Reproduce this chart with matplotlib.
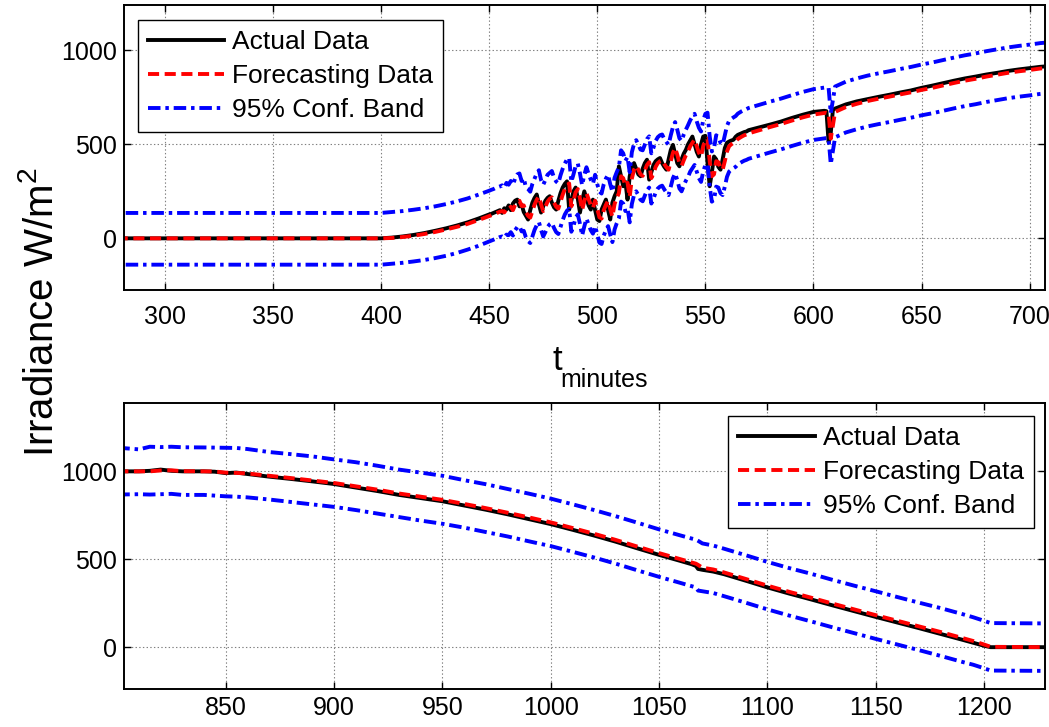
import numpy as np
import matplotlib
matplotlib.use("Agg")
from matplotlib import pyplot as plt

plt.rcParams['font.family'] = ['Liberation Sans', 'DejaVu Sans']
plt.rcParams['mathtext.fontset'] = 'custom'
plt.rcParams['mathtext.rm'] = 'Liberation Sans'
plt.rcParams['mathtext.it'] = 'Liberation Sans:italic'
plt.rcParams['lines.scale_dashes'] = False

# ---- top panel (morning), minutes ----
t_top = ([270, 400] + list(range(405, 451, 5)) + list(range(451, 571))
         + [575, 580, 585, 590, 595, 600, 605, 606, 607, 608, 609, 610]
         + list(range(615, 706, 5)) + [712])

actual_top = ([0, 0] + [4, 10, 18, 28, 40, 53, 68, 85, 105, 127]
    + [130, 135, 140, 145, 150, 135, 160, 153, 175, 150,
       185, 200, 206, 170, 180, 140, 120, 100, 150, 190,
       215, 233, 180, 137, 170, 200, 215, 224, 190, 165,
       153, 200, 240, 270, 290, 303, 153, 200, 250, 270,
       210, 137, 200, 250, 210, 175, 153, 206, 150, 100,
       92, 153, 180, 206, 150, 100, 190, 224, 250, 383,
       330, 277, 300, 206, 330, 380, 400, 370, 340, 330,
       370, 400, 418, 312, 350, 390, 410, 420, 427, 400,
       380, 365, 420, 470, 497, 450, 400, 383, 420, 450,
       471, 500, 520, 541, 500, 460, 435, 500, 541, 545,
       400, 277, 350, 435, 420, 380, 365, 420, 480, 508,
       515, 520, 524, 540, 550, 555, 560, 565, 568, 575]
    + [590, 605, 621, 640, 657, 672, 678, 676, 510, 560, 683, 690,
       712, 728, 740, 752, 763, 775, 786, 800, 812, 825, 838, 850,
       860, 871, 880, 890, 898, 905, 912, 918])

forecast_top = ([0, 0] + [2, 7, 14, 23, 34, 47, 61, 77, 97, 118]
    + [122, 127, 132, 137, 142, 145, 138, 155, 152, 168,
       150, 178, 195, 200, 172, 175, 140, 120, 110, 145,
       180, 205, 222, 180, 145, 168, 195, 210, 218, 190,
       168, 158, 195, 232, 262, 282, 292, 170, 200, 245,
       262, 212, 150, 198, 240, 208, 178, 160, 200, 155,
       112, 105, 150, 178, 200, 155, 115, 182, 215, 240,
       330, 320, 280, 295, 220, 318, 365, 385, 365, 340,
       332, 362, 390, 405, 320, 345, 380, 400, 410, 415,
       395, 378, 365, 410, 455, 480, 445, 400, 385, 415,
       442, 462, 490, 508, 525, 490, 455, 435, 490, 525,
       530, 410, 330, 340, 410, 405, 375, 365, 410, 462,
       490, 500, 508, 515, 528, 535, 542, 548, 552, 558]
    + [575, 592, 608, 626, 643, 658, 666, 668, 665, 530, 600, 672,
       698, 715, 730, 742, 753, 765, 776, 789, 800, 813, 826, 838,
       848, 860, 870, 880, 888, 895, 903, 910])

upper_top = ([135, 135] + [140, 145, 152, 160, 170, 182, 196, 212, 232, 253]
    + [258, 262, 268, 272, 276, 282, 270, 295, 285, 305,
       285, 318, 340, 345, 305, 320, 270, 262, 248, 290,
       318, 345, 362, 310, 285, 310, 338, 348, 358, 322,
       302, 292, 335, 370, 398, 420, 428, 300, 340, 385,
       398, 345, 282, 338, 378, 342, 312, 290, 338, 288,
       248, 238, 288, 318, 338, 288, 248, 322, 352, 378,
       468, 452, 412, 432, 352, 458, 502, 522, 498, 472,
       468, 498, 528, 542, 452, 482, 518, 538, 548, 552,
       528, 512, 498, 548, 592, 618, 578, 532, 518, 552,
       578, 602, 628, 648, 662, 622, 588, 568, 628, 662,
       668, 542, 462, 478, 548, 538, 508, 498, 548, 598,
       625, 635, 643, 650, 663, 670, 677, 683, 687, 693]
    + [710, 727, 743, 761, 778, 793, 801, 803, 800, 665, 735, 807,
       833, 850, 865, 877, 888, 900, 911, 924, 935, 948, 961, 973,
       983, 995, 1005, 1015, 1023, 1030, 1038, 1045])

lower_top = ([-140, -140] + [-135, -130, -123, -115, -105, -93, -78, -60, -40, -17]
    + [-13, -8, -3, 2, 7, 10, 3, 20, 17, 33,
       15, 43, 60, 65, 37, 40, 5, -15, -25, 10,
       45, 70, 87, 45, 10, 33, 60, 75, 83, 55,
       33, 23, 60, 97, 127, 147, 157, 35, 65, 110,
       127, 77, 15, 63, 105, 73, 43, 25, 65, 20,
       -23, -30, 15, 43, 65, 20, -20, 47, 80, 105,
       195, 185, 145, 160, 85, 183, 230, 250, 230, 205,
       197, 227, 255, 270, 185, 210, 245, 265, 275, 280,
       260, 243, 230, 275, 320, 345, 310, 265, 250, 280,
       307, 327, 355, 373, 390, 355, 320, 300, 355, 390,
       395, 275, 195, 205, 275, 270, 240, 230, 275, 327,
       355, 365, 373, 380, 393, 400, 407, 413, 417, 423]
    + [440, 457, 473, 491, 508, 523, 531, 533, 530, 395, 465, 537,
       563, 580, 595, 607, 618, 630, 641, 654, 665, 678, 691, 703,
       713, 725, 735, 745, 753, 760, 768, 777])

# ---- bottom panel (afternoon), minutes ----
t_bot = [800, 810, 815, 820, 825, 830, 840, 845, 850, 855, 860,
         870, 880, 890, 900, 910, 920, 930, 940, 950, 960,
         970, 980, 990, 1000, 1010, 1020, 1030, 1040, 1050, 1060,
         1065, 1067, 1068, 1070, 1075, 1080,
         1090, 1100, 1110, 1120, 1130, 1140, 1150, 1160, 1170, 1180, 1190,
         1195, 1200, 1203, 1230]

actual_bot = [1000, 1000, 1003, 1010, 1003, 1000, 1000, 998, 990, 993, 985,
              970, 957, 943, 928, 908, 888, 866, 848, 830, 806,
              782, 756, 728, 700, 668, 635, 600, 562, 525, 490,
              472, 462, 445, 440, 430, 415,
              378, 340, 305, 272, 238, 205, 172, 140, 108, 75, 42,
              25, 8, 0, 0]

forecast_bot = [1000, 1000, 1000, 1005, 1006, 1001, 1000, 999, 993, 991, 988,
                975, 962, 948, 934, 915, 896, 874, 856, 838, 815,
                791, 765, 738, 710, 678, 645, 610, 572, 535, 500,
                482, 475, 468, 452, 442, 425,
                388, 350, 315, 282, 248, 215, 182, 150, 118, 86, 52,
                35, 15, 2, 0]

upper_bot = [1135, 1125, 1140, 1138, 1140, 1137, 1136, 1135, 1134, 1133, 1127,
             1110, 1098, 1085, 1068, 1052, 1032, 1010, 993, 975, 950,
             927, 900, 873, 845, 813, 780, 745, 708, 670, 635,
             618, 612, 605, 590, 578, 560,
             523, 485, 450, 418, 383, 350, 318, 285, 253, 222, 188,
             170, 150, 137, 135]

lower_bot = [868, 870, 868, 870, 872, 866, 866, 862, 858, 856, 852,
             840, 826, 812, 798, 780, 760, 740, 720, 702, 680,
             655, 630, 602, 575, 543, 510, 475, 437, 400, 365,
             347, 340, 322, 318, 308, 290,
             253, 215, 180, 147, 113, 80, 47, 15, -17, -50, -84,
             -100, -120, -133, -135]

labels = ['Actual Data', 'Forecasting Data', '95% Conf. Band']
FS = 18
LEG_FS = 19


def draw_panel(ax, t, act, fc, up, lo, xlim, ylim, xticks):
    ax.plot(t, act, color='black', lw=2.8, label=labels[0])
    ax.plot(t, fc, color='red', lw=2.8, dashes=(8, 4), label=labels[1])
    ax.plot(t, up, color='blue', lw=2.8, dashes=(9, 3.5, 2.5, 3.5), label=labels[2])
    ax.plot(t, lo, color='blue', lw=2.8, dashes=(9, 3.5, 2.5, 3.5))
    ax.set_xlim(*xlim)
    ax.set_ylim(*ylim)
    ax.set_xticks(xticks)
    ax.set_yticks([0, 500, 1000])
    ax.grid(True, color='#808080', linestyle=':', linewidth=0.8)
    ax.tick_params(direction='in', top=True, right=True, length=5, width=1,
                   labelsize=FS)
    for s in ax.spines.values():
        s.set_linewidth(1.4)


fig = plt.figure(figsize=(10.49, 7.27), dpi=100)
ax1 = fig.add_axes([0.118, 0.601, 0.878, 0.392])
ax2 = fig.add_axes([0.118, 0.052, 0.878, 0.393])

draw_panel(ax1, t_top, actual_top, forecast_top, upper_top, lower_top,
           (281, 707), (-275, 1240), list(range(300, 701, 50)))
draw_panel(ax2, t_bot, actual_bot, forecast_bot, upper_bot, lower_bot,
           (803, 1228), (-239, 1386), list(range(850, 1201, 50)))
ax1.tick_params(axis='x', pad=11)
ax2.tick_params(axis='x', pad=5)
ax1.tick_params(axis='y', pad=5)
ax2.tick_params(axis='y', pad=5)

leg_kw = dict(fontsize=LEG_FS, frameon=True, fancybox=False, framealpha=1,
              edgecolor='black', handlelength=2.9, handletextpad=0.3,
              labelspacing=0.37, borderaxespad=0, borderpad=0.38)
lg1 = ax1.legend(loc='upper left', bbox_to_anchor=(0.0152, 0.947), **leg_kw)
lg2 = ax2.legend(loc='upper right', bbox_to_anchor=(0.988, 0.955), **leg_kw)
for lg in (lg1, lg2):
    lg.get_frame().set_linewidth(1.0)

# x label of the top panel: "t" with a low-set subscript
fig.text(0.5315, 0.491, 't', fontsize=25, ha='center', va='baseline')
fig.text(0.576, 0.468, 'minutes', fontsize=18, ha='center', va='baseline')
fig.text(0.040, 0.571, r'Irradiance W/m$^{2}$', fontsize=29, rotation=90,
         ha='center', va='center')

fig.savefig('out.png', dpi=100)
